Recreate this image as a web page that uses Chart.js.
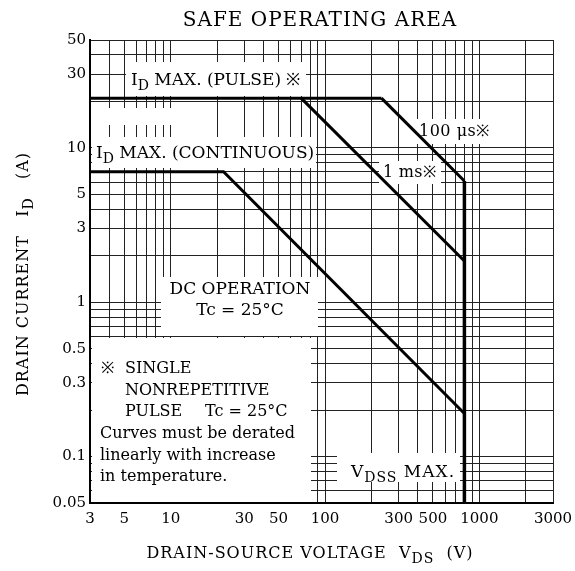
<!DOCTYPE html>
<html>
<head>
<meta charset="utf-8">
<script src="https://cdn.jsdelivr.net/npm/chart.js@4.4.1/dist/chart.umd.min.js"></script>
<style>
  html, body { margin: 0; padding: 0; background: #fff; }
</style>
</head>
<body>
<canvas id="soa" width="575" height="571"></canvas>
<script>
// grid lines (log decades) and the values that get a tick label
const xGrid = [3, 4, 5, 6, 7, 8, 9, 10, 20, 30, 40, 50, 60, 70, 80, 90, 100,
  200, 300, 400, 500, 600, 700, 800, 900, 1000, 2000, 3000]
const yGrid = [0.05, 0.06, 0.07, 0.08, 0.09, 0.1, 0.2, 0.3, 0.4, 0.5, 0.6, 0.7, 0.8, 0.9,
  1, 2, 3, 4, 5, 6, 7, 8, 9, 10, 20, 30, 40, 50]
const xLabels = [3, 5, 10, 30, 50, 100, 300, 500, 1000, 3000]
const yLabels = [0.05, 0.1, 0.3, 0.5, 1, 3, 5, 10, 30, 50]

// limit curves, VDS (V) against ID (A)
const pulseV = [3, 232]
const pulseI = [21, 21]
const us100V = [232, 800]
const us100I = [21, 6.1]
const ms1V = [70, 800]
const ms1I = [21, 1.85]
const dcV = [3, 22, 800]
const dcI = [7, 7, 0.19]
const vdssV = [800, 800]
const vdssI = [6.1, 0.05]

const serif = '"DejaVu Serif", serif'
const pts = (xs, ys) => xs.map((x, i) => ({ x, y: ys[i] }))
const curve = (xs, ys, w) => ({
  data: pts(xs, ys), showLine: true, borderColor: '#000', borderWidth: w,
  pointRadius: 0, fill: false
})

// text with subscripts: parts = [[text, isSub], ...]
function rich (c, x, y, parts, size, align, spacing) {
  const fontOf = sub => (sub ? Math.round(size * 0.85) : size) + 'px ' + serif
  c.letterSpacing = (spacing || 0) + 'px'
  let w = 0
  for (const [t, sub] of parts) { c.font = fontOf(sub); w += c.measureText(t).width }
  let cx = align === 'center' ? x - w / 2 : x
  c.textAlign = 'left'
  c.textBaseline = 'alphabetic'
  for (const [t, sub] of parts) {
    c.font = fontOf(sub)
    c.fillText(t, cx, sub ? y + size * 0.32 : y)
    cx += c.measureText(t).width
  }
}

// white label boxes that break the grid
const boxes = [
  [126, 62, 180, 34],
  [92, 108, 108, 17],
  [92, 137, 224, 31],
  [417, 119, 80, 25],
  [379, 161, 62, 23],
  [161, 277, 157, 59],
  [92, 338, 219, 164],
  [337, 453, 123, 29]
]

const notes = {
  id: 'notes',
  beforeDatasetsDraw (chart) {
    const c = chart.ctx
    c.save()
    c.fillStyle = '#fff'
    for (const [x, y, w, h] of boxes) c.fillRect(x, y, w, h)
    c.restore()
  },
  afterDatasetsDraw (chart) {
    const c = chart.ctx
    c.save()
    c.fillStyle = '#000'
    rich(c, 320, 26, [['SAFE OPERATING AREA']], 20, 'center', 1)
    rich(c, 131, 85, [['I'], ['D', 1], [' MAX. (PULSE) ※']], 17, 'left')
    rich(c, 96, 158, [['I'], ['D', 1], [' MAX. (CONTINUOUS)']], 17, 'left')
    rich(c, 419, 136, [['100 μs※']], 16, 'left', 0.5)
    rich(c, 383, 177, [['1 ms※']], 16, 'left', 0.3)
    rich(c, 240, 294, [['DC OPERATION']], 17, 'center')
    rich(c, 240, 315, [['Tc = 25°C']], 17, 'center')
    rich(c, 101, 373, [['※']], 16, 'left')
    rich(c, 125, 373, [['SINGLE']], 16, 'left')
    rich(c, 125, 395, [['NONREPETITIVE']], 16, 'left')
    rich(c, 125, 416, [['PULSE']], 16, 'left')
    rich(c, 205, 416, [['Tc = 25°C']], 16, 'left')
    rich(c, 100, 438, [['Curves must be derated']], 16, 'left')
    rich(c, 100, 460, [['linearly with increase']], 16, 'left')
    rich(c, 100, 481, [['in temperature.']], 16, 'left')
    rich(c, 351, 477, [['V'], ['DSS', 1], [' MAX.']], 17, 'left', 1)
    rich(c, 310, 558, [['DRAIN-SOURCE VOLTAGE  V'], ['DS', 1], ['  (V)']], 16, 'center', 1)
    c.translate(28, 274)
    c.rotate(-Math.PI / 2)
    rich(c, 0, 0, [['DRAIN CURRENT   I'], ['D', 1], ['   (A)']], 16, 'center', 1)
    c.restore()
  }
}

const tickFont = { family: serif, size: 15 }
const gridStyle = { color: '#222', lineWidth: 1, drawTicks: false }

new Chart(document.getElementById('soa'), {
  type: 'scatter',
  data: {
    datasets: [
      curve(pulseV, pulseI, 3),
      curve(us100V, us100I, 3),
      curve(ms1V, ms1I, 3),
      curve(dcV, dcI, 3),
      curve(vdssV, vdssI, 3.5)
    ]
  },
  options: {
    responsive: false,
    animation: false,
    devicePixelRatio: 1,
    layout: { padding: { top: 40, right: 22, left: 0, bottom: 0 } },
    plugins: { legend: { display: false }, tooltip: { enabled: false } },
    scales: {
      x: {
        type: 'logarithmic',
        min: 3,
        max: 3000,
        afterBuildTicks: s => { s.ticks = xGrid.map(v => ({ value: v })) },
        afterFit: s => { s.height = 68; s.paddingLeft = 0; s.paddingRight = 0 },
        grid: gridStyle,
        border: { color: '#000', width: 2 },
        ticks: {
          autoSkip: false,
          maxRotation: 0,
          padding: 7,
          color: '#000',
          font: tickFont,
          callback: v => xLabels.includes(v) ? String(v) : ''
        }
      },
      y: {
        type: 'logarithmic',
        min: 0.05,
        max: 50,
        afterBuildTicks: s => { s.ticks = yGrid.map(v => ({ value: v })) },
        afterFit: s => { s.width = 90; s.paddingTop = 0; s.paddingBottom = 0 },
        grid: gridStyle,
        border: { color: '#000', width: 2 },
        ticks: {
          autoSkip: false,
          padding: 4,
          color: '#000',
          font: tickFont,
          callback: v => yLabels.includes(v) ? String(v) : ''
        }
      }
    }
  },
  plugins: [notes]
})
</script>
</body>
</html>
